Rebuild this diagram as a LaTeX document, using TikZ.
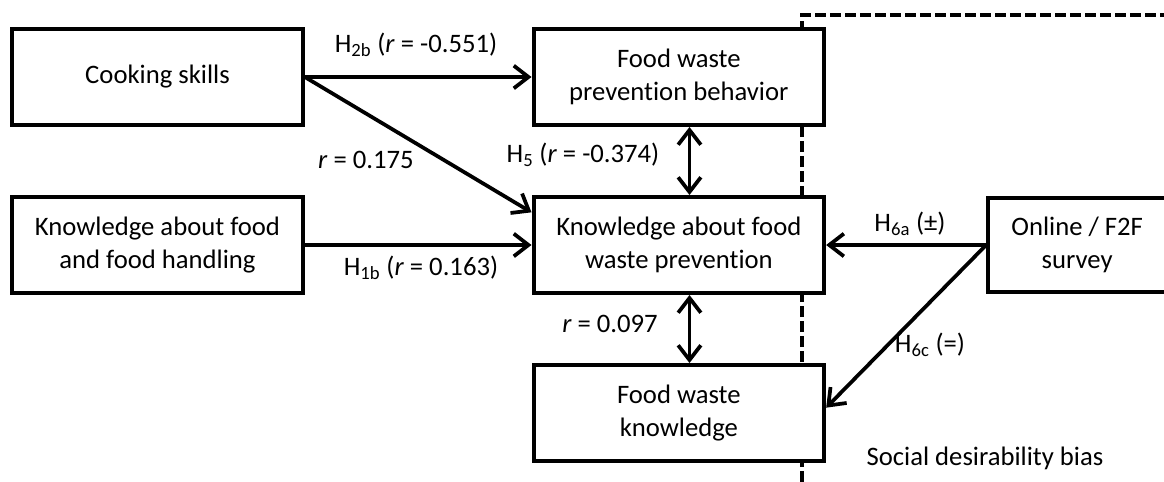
\documentclass[tikz,border=0pt]{standalone}
\usepackage{fontspec}
\setmainfont{Carlito}[Ligatures=NoCommon]
\usetikzlibrary{positioning,arrows.meta}

\tikzset{
	box/.style={draw, line width=3pt, fill=white, minimum width=218pt, minimum height=72pt, align=center, inner sep=2pt, font=\fontsize{20}{25}\selectfont},
	arr/.style={-{Straight Barb[length=11pt,width=17pt]}, line width=2.8pt},
	dbl/.style={{Straight Barb[length=11pt,width=17pt]}-{Straight Barb[length=11pt,width=17pt]}, line width=2.8pt},
	lbl/.style={inner sep=0pt, font=\fontsize{20}{25}\selectfont},
	biasline/.style={line width=2.6pt, dash pattern=on 8.25pt off 3pt}
}

\begin{document}
\begin{tikzpicture}[x=0.75pt, y=-0.75pt, node distance=51pt and 170pt]
			\useasboundingbox (0,0) rectangle (1164,482);

			\coordinate (btop) at (802,15);
			\coordinate (bbot) at (802,482);
			\coordinate (bright) at (1164,15);
			\draw[biasline] (bbot) -- (btop) -- (bright);

			\node[box](cook) at (157.5,77){Cooking skills};
			\node[box, below=of cook](know){Knowledge about food\\and food handling};

			\node[box, right=of cook](fwp){Food waste\\prevention behavior};
			\node[box, below=of fwp](kfwp){Knowledge about food\\waste prevention};
			\node[box, below=of kfwp](fwk){Food waste\\knowledge};
			\node[box, right=120pt of kfwp, minimum width=133.5pt, minimum height=70.5pt](survey){Online / F2F\\survey};

			\draw[arr] (cook.east) -- (fwp.west);
			\draw[arr] (cook.east) -- ([yshift=-13pt]kfwp.north west);
			\draw[arr] (know.east) -- (kfwp.west);
			\draw[dbl] ([xshift=8pt]fwp.south) -- ([xshift=8pt]kfwp.north);
			\draw[dbl] ([xshift=8pt]kfwp.south) -- ([xshift=8pt]fwk.north);
			\draw[arr] (survey.west) -- (kfwp.east);
			\draw[arr] (survey.west) -- ([yshift=4pt]fwk.east);

			\node[lbl](h2b) at (416,45){H\textsubscript{2b} (\textit{r} = -0.551)};
			\node[lbl](rcook) at (366,160){\textit{r} = 0.175};
			\node[lbl](h5) at (583,155){H\textsubscript{5} (\textit{r} = -0.374)};
			\node[lbl](h1b) at (421,268){H\textsubscript{1b} (\textit{r} = 0.163)};
			\node[lbl](rfwk) at (610,324){\textit{r} = 0.097};
			\node[lbl](h6a) at (910,224){H\textsubscript{6a} (±)};
			\node[lbl](h6c) at (930,345){H\textsubscript{6c} (=)};
			\node[lbl](bias) at (985,458){Social desirability bias};
		\end{tikzpicture}
\end{document}
